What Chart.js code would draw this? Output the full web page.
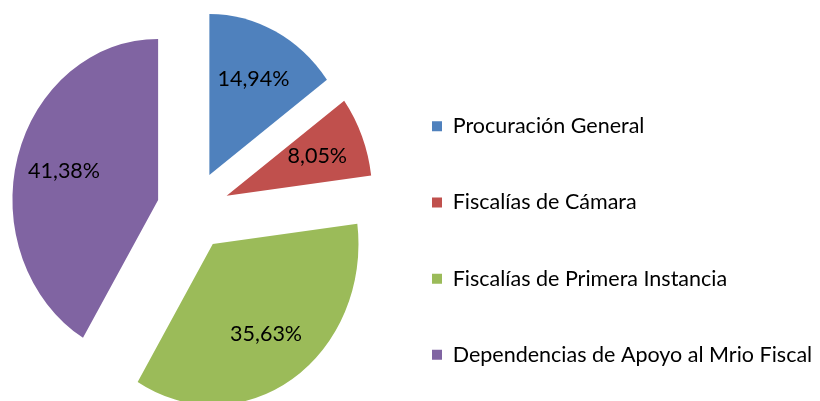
<!DOCTYPE html>
<html>
<head>
<meta charset="utf-8">
<script src="https://cdn.jsdelivr.net/npm/chart.js@4"></script>
<style>
  html, body { margin: 0; padding: 0; background: #fff; overflow: hidden; }
  /* canvas starts a bit left of the window so the pie can sit close to the edge */
  #wrap { width: 866px; height: 401px; margin-left: -46px; }
</style>
</head>
<body>
<div id="wrap"><canvas id="pie"></canvas></div>
<script>
const categories = ['Procuración General', 'Fiscalías de Cámara', 'Fiscalías de Primera Instancia', 'Dependencias de Apoyo al Mrio Fiscal'];
const shares     = [14.94, 8.05, 35.63, 41.38];
const colors     = ['#4F81BD', '#C0504D', '#9BBB59', '#8064A2'];

const FONT    = 'Lato';
const EXPLODE = 40;     // distance each slice is pulled out
const SQUASH  = 0.905;  // the original pie is a bit narrower than tall
const LABEL_R = 0.67;   // where the % labels sit, as a share of the radius

// pulls the slices apart, squeezes the pie and writes the percentages
const explodePie = {
  id: 'explodePie',
  beforeDatasetsDraw(chart) {
    const { ctx, chartArea } = chart;
    const cx = (chartArea.left + chartArea.right) / 2;
    const cy = (chartArea.top + chartArea.bottom) / 2;
    chart.getDatasetMeta(0).data.forEach(arc => {
      const mid = (arc.startAngle + arc.endAngle) / 2;
      arc.x = cx + EXPLODE * Math.cos(mid);
      arc.y = cy + EXPLODE * Math.sin(mid);
    });
    ctx.save();
    ctx.translate(cx, 0);
    ctx.scale(SQUASH, 1);
    ctx.translate(-cx, 0);
  },
  afterDatasetsDraw(chart) {
    const { ctx, chartArea } = chart;
    ctx.restore();
    const cx = (chartArea.left + chartArea.right) / 2;
    const cy = (chartArea.top + chartArea.bottom) / 2;
    ctx.save();
    ctx.font = '21.5px ' + FONT;
    ctx.fillStyle = '#000';
    ctx.textAlign = 'center';
    ctx.textBaseline = 'middle';
    chart.getDatasetMeta(0).data.forEach((arc, i) => {
      const mid = (arc.startAngle + arc.endAngle) / 2;
      const dist = EXPLODE + arc.outerRadius * LABEL_R;
      const x = cx + SQUASH * dist * Math.cos(mid);
      const y = cy + dist * Math.sin(mid);
      ctx.fillText(shares[i].toFixed(2).replace('.', ',') + '%', x, y);
    });
    ctx.restore();
  }
};

new Chart(document.getElementById('pie'), {
  type: 'pie',
  data: {
    labels: categories,
    datasets: [{
      data: shares,
      backgroundColor: colors,
      borderWidth: 0,
      hoverOffset: 0,
      clip: false
    }]
  },
  options: {
    responsive: true,
    maintainAspectRatio: false,
    animation: false,
    events: [],
    radius: 161,
    layout: {
      padding: { left: 0, top: 107.4, right: 0, bottom: -27.4 }
    },
    plugins: {
      tooltip: { enabled: false },
      // empty bottom title, only used to lift the pie above the legend's middle
      title: {
        display: true,
        position: 'bottom',
        text: '',
        font: { size: 10, lineHeight: 1 },
        padding: { top: 104.6, bottom: 0 }
      },
      legend: {
        position: 'right',
        maxWidth: 388,
        labels: {
          padding: 0,
          boxWidth: 10,
          boxHeight: 10,
          color: '#000',
          font: { family: FONT, size: 21.5, lineHeight: 76.2 / 21.5 },
          generateLabels: () => categories.map((c, i) => ({
            text: [c],
            fillStyle: colors[i],
            strokeStyle: colors[i],
            lineWidth: 0,
            hidden: false,
            index: i
          }))
        }
      }
    }
  },
  plugins: [explodePie]
});
</script>
</body>
</html>
